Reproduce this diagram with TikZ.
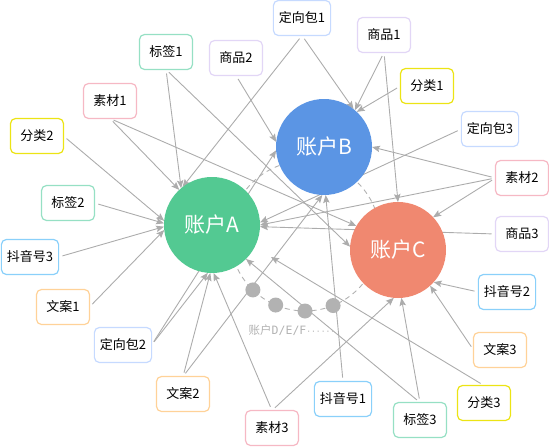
\documentclass[tikz,border=0pt]{standalone}
\usepackage{fontspec}
\setmainfont{Noto Sans CJK SC}
\setmonofont{DejaVu Sans Mono}
\usetikzlibrary{arrows.meta,backgrounds}

\definecolor{edgegray}{RGB}{172,172,172}
\definecolor{loopgray}{RGB}{178,178,178}
\definecolor{accgreen}{RGB}{83,201,146}
\definecolor{accblue}{RGB}{91,149,228}
\definecolor{accred}{RGB}{240,136,112}
\definecolor{tagc}{RGB}{150,224,196}
\definecolor{assetc}{RGB}{246,184,196}
\definecolor{catc}{RGB}{236,228,20}
\definecolor{goodsc}{RGB}{226,214,246}
\definecolor{pkgc}{RGB}{198,218,255}
\definecolor{dyc}{RGB}{138,208,250}
\definecolor{copyc}{RGB}{255,210,152}

\begin{document}
\begin{tikzpicture}[x=1pt,y=-1pt,
  acct/.style={circle,fill=#1,minimum size=96pt,inner sep=0pt,outer sep=0pt,
    text=white,font=\fontsize{21}{24}\selectfont},
  leaf/.style={draw=#1,line width=1.2pt,rounded corners=5pt,fill=white,
    minimum width=53pt,minimum height=35pt,inner xsep=5.5pt,outer sep=0pt,
    font=\fontsize{13}{15}\selectfont,text=black},
  link/.style={draw=edgegray,line width=0.9pt,shorten <=4pt,
    -{Stealth[length=8pt,width=6.5pt,inset=1.5pt]}}]

\useasboundingbox (0,0) rectangle (549,447);

\def\R{75}

%====================================================
% Accounts
%====================================================
\node[acct=accgreen] (accA) at (212,225) {账户A};
\node[acct=accblue]  (accB) at (324,147) {账户B};
\node[acct=accred]   (accC) at (398,250) {账户C};

% more accounts on the loop
\foreach \a in {134,113,90,68}
  \fill[loopgray] (305,236) ++(\a:\R) circle[radius=7.5pt];
\node[text=loopgray,font=\fontsize{11.5}{13}\selectfont] (more) at (292,330)
  {账户\texttt{D/E/F}{\fontsize{8}{9}\selectfont\texttt{······}}};

%====================================================
% Materials
%====================================================
\node[leaf=tagc]   (tag1)   at (166,52)  {标签1};
\node[leaf=goodsc] (goods2) at (236,58)  {商品2};
\node[leaf=pkgc]   (pkg1)   at (302,18)  {定向包1};
\node[leaf=goodsc] (goods1) at (384,35)  {商品1};
\node[leaf=catc]   (cat1)   at (427,86)  {分类1};
\node[leaf=pkgc]   (pkg3)   at (490,129) {定向包3};
\node[leaf=assetc] (asset2) at (522,178) {素材2};
\node[leaf=goodsc] (goods3) at (522,234) {商品3};
\node[leaf=dyc]    (dy2)    at (507,292) {抖音号2};
\node[leaf=copyc]  (copy3)  at (500,350) {文案3};
\node[leaf=catc]   (cat3)   at (484,403) {分类3};
\node[leaf=tagc]   (tag3)   at (420,420) {标签3};
\node[leaf=dyc]    (dy1)    at (343,399) {抖音号1};
\node[leaf=assetc] (asset3) at (272,428) {素材3};
\node[leaf=copyc]  (copy2)  at (183,394) {文案2};
\node[leaf=pkgc]   (pkg2)   at (123,345) {定向包2};
\node[leaf=copyc]  (copy1)  at (63,307)  {文案1};
\node[leaf=dyc]    (dy3)    at (30,257)  {抖音号3};
\node[leaf=tagc]   (tag2)   at (68,203)  {标签2};
\node[leaf=catc]   (cat2)   at (37,136)  {分类2};
\node[leaf=assetc] (asset1) at (110,101) {素材1};

\coordinate (gap) at (271,257);

\begin{pgfonlayer}{background}

% Loop of accounts
\draw[loopgray,line width=0.9pt,dash pattern=on 5pt off 4pt]
  (305,236) circle[radius=\R pt];

% Into account A
\draw[link] (tag1.south)   -- (accA.130);
\draw[link] (asset1.south) -- (accA.133);
\draw[link] (pkg1.south)   -- (accA.128);
\draw[link] (cat2.east)    -- (accA.175);
\draw[link] (tag2.east)    -- (accA.178);
\draw[link] (dy3.east)     -- (accA.182);
\draw[link] (copy1.east)   -- (accA.186);
\draw[link] (pkg3.west)    -- (accA.3);
\draw[link] (asset2.west)  -- (accA.0);
\draw[link] (goods3.west)  -- (accA.-2);
\draw[link] (tag3.north)   -- (accA.-45);
\draw[link] (copy2.north)  -- (accA.-92);
\draw[link] (pkg2.east)    -- (accA.-95);
\draw[link] (asset3.north) -- (accA.-88);
\draw[link] (cat3.north)   -- (gap);

% Into account B
\draw[link] (pkg1.south)   -- (accB.52);
\draw[link] (goods1.south) -- (accB.50);
\draw[link] (cat1.west)    -- (accB.47);
\draw[link] (goods2.south) -- (accB.174);
\draw[link] (pkg2.east)    -- (accB.184);
\draw[link] (asset2.west)  -- (accB.0);
\draw[link] (dy1.north)    -- (accB.-88);
\draw[link] (copy2.north)  -- (accB.-92);

% Into account C
\draw[link] (goods1.south) -- (accC.90);
\draw[link] (asset2.west)  -- (accC.43);
\draw[link] (asset1.south) -- (accC.150);
\draw[link] (tag1.south)   -- (accC.176);
\draw[link] (dy2.west)     -- (accC.-42);
\draw[link] (copy3.west)   -- (accC.-48);
\draw[link] (asset3.north) -- (accC.-95);
\draw[link] (tag3.north)   -- (accC.-86);

\end{pgfonlayer}

\end{tikzpicture}
\end{document}
